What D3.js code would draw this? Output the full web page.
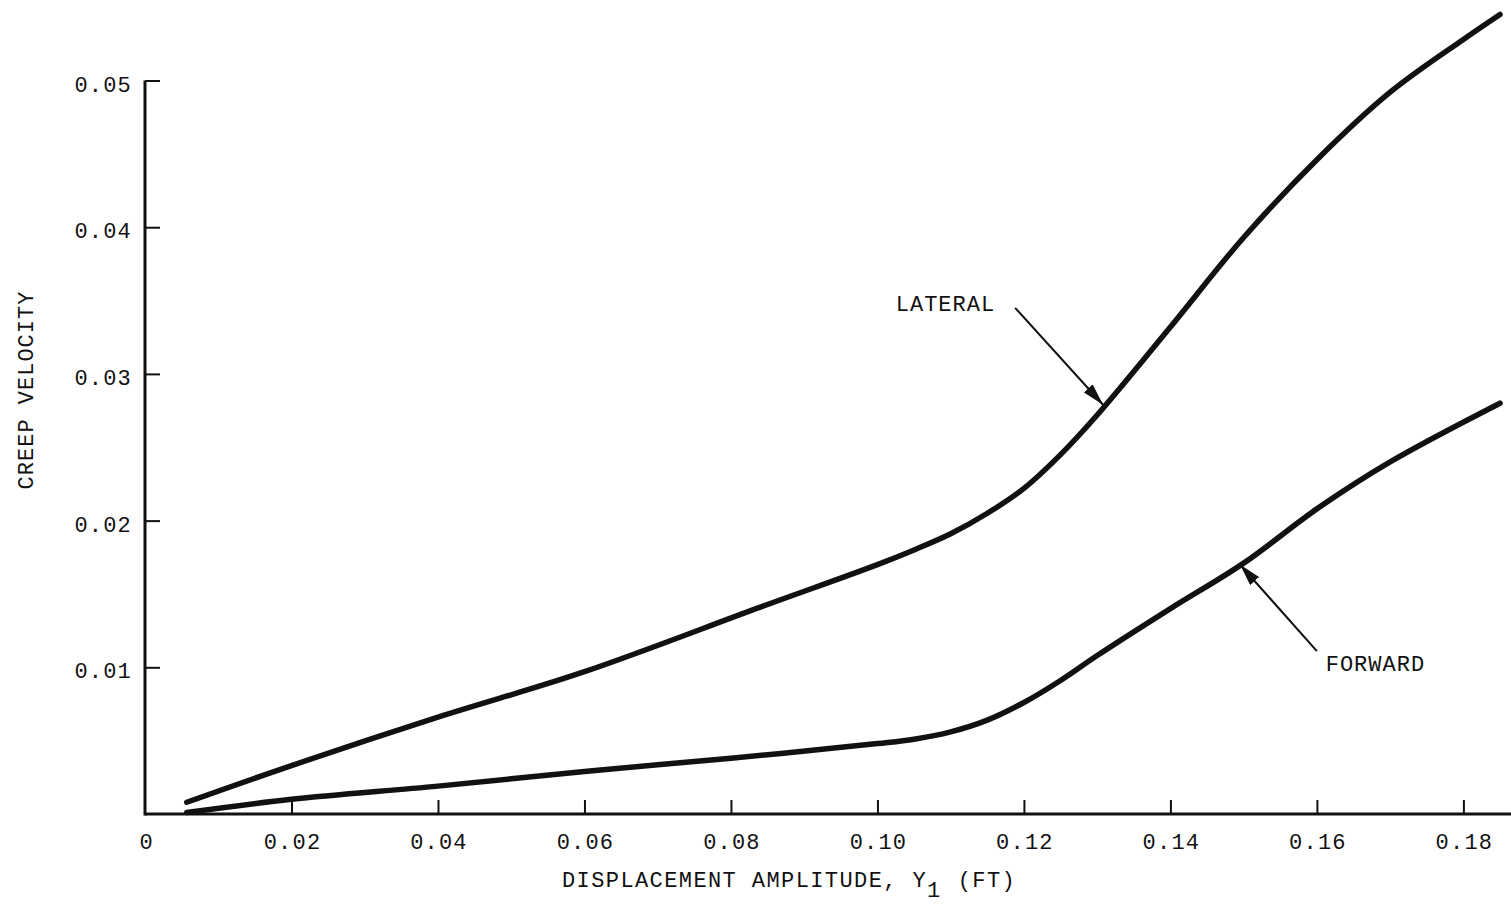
<!DOCTYPE html>
<html>
<head>
<meta charset="utf-8">
<script src="https://cdn.jsdelivr.net/npm/d3@7"></script>
<style>
  html, body { margin: 0; padding: 0; background: #fff; }
  svg { display: block; }
  text { font-family: "Liberation Mono", "Courier New", monospace; fill: #111; }
</style>
</head>
<body>
<svg id="chart" width="1511" height="905"></svg>
<script>
// ---- Data ----
const xTicks = [0.02, 0.04, 0.06, 0.08, 0.10, 0.12, 0.14, 0.16, 0.18];
const xTickLabels = ["0.02", "0.04", "0.06", "0.08", "0.10", "0.12", "0.14", "0.16", "0.18"];
const yTicks = [0.01, 0.02, 0.03, 0.04, 0.05];
const yTickLabels = ["0.01", "0.02", "0.03", "0.04", "0.05"];

const lateralX = [0.0057, 0.02, 0.04, 0.06, 0.084, 0.10, 0.105, 0.11, 0.115, 0.12, 0.125, 0.13, 0.14, 0.15, 0.16, 0.17, 0.18, 0.185];
const lateralY = [0.0008, 0.0033, 0.0066, 0.0097, 0.0141, 0.0170, 0.0180, 0.0191, 0.0205, 0.0222, 0.0245, 0.0272, 0.0332, 0.0393, 0.0446, 0.0492, 0.0528, 0.0545];

const forwardX = [0.0057, 0.02, 0.04, 0.06, 0.08, 0.10, 0.105, 0.11, 0.115, 0.12, 0.125, 0.13, 0.14, 0.15, 0.16, 0.17, 0.185];
const forwardY = [0.0001, 0.0010, 0.0019, 0.0029, 0.0038, 0.0048, 0.0051, 0.0056, 0.0064, 0.0076, 0.0091, 0.0108, 0.0140, 0.0171, 0.0208, 0.0240, 0.0280];

const annoLabels = ["LATERAL", "FORWARD"];
const annoTextX = [0.1025, 0.1612];
const annoTextY = [0.0343, 0.00975];
const arrowFromX = [0.1188, 0.1600];
const arrowFromY = [0.0345, 0.0111];
const arrowToX = [0.1308, 0.1495];
const arrowToY = [0.0279, 0.0170];

// ---- Chart ----
const svg = d3.select("#chart");
const x = d3.scaleLinear().domain([0, 0.1865]).range([145, 1511]);
const y = d3.scaleLinear().domain([0, 0.05]).range([814, 80.5]);

const defs = svg.append("defs");
defs.append("marker")
  .attr("id", "arrow").attr("viewBox", "0 0 22 12")
  .attr("refX", 22).attr("refY", 6)
  .attr("markerWidth", 22).attr("markerHeight", 12)
  .attr("markerUnits", "userSpaceOnUse")
  .attr("orient", "auto")
  .append("path").attr("d", "M0,0 L22,6 L0,12 Z").attr("fill", "#111");

// axes
const xAxis = d3.axisBottom(x).tickValues(xTicks).tickSize(-14).tickFormat("");
const gx = svg.append("g").attr("transform", `translate(0,${y(0)})`).call(xAxis);
gx.select(".domain").attr("stroke", "#111").attr("stroke-width", 3).attr("d", `M${x(0)},0H1511`);
gx.selectAll(".tick line").attr("stroke", "#111").attr("stroke-width", 2);

const yAxis = d3.axisLeft(y).tickValues(yTicks).tickSize(-15).tickFormat("");
const gy = svg.append("g").attr("transform", `translate(${x(0)},0)`).call(yAxis);
gy.select(".domain").attr("stroke", "#111").attr("stroke-width", 3).attr("d", `M0,${y(0) + 1.5}V${y(0.05)}`);
gy.selectAll(".tick line").attr("stroke", "#111").attr("stroke-width", 2);

// tick labels
const FS = 22, LS = 1.2;
svg.append("g").selectAll("text").data(xTicks).join("text")
  .attr("x", d => x(d) + 1).attr("y", 849)
  .attr("text-anchor", "middle").attr("font-size", FS).attr("letter-spacing", LS)
  .text((d, i) => xTickLabels[i]);
svg.append("text").attr("x", x(0) + 1).attr("y", 849).attr("text-anchor", "middle")
  .attr("font-size", FS).text("0");

svg.append("g").selectAll("text").data(yTicks).join("text")
  .attr("x", 132).attr("y", d => y(d) + 11)
  .attr("text-anchor", "end").attr("font-size", FS).attr("letter-spacing", LS)
  .text((d, i) => yTickLabels[i]);

// axis titles
const xt = svg.append("text").attr("x", 562).attr("y", 887)
  .attr("font-size", FS).attr("letter-spacing", 1.4);
xt.append("tspan").text("DISPLACEMENT AMPLITUDE, Y");
xt.append("tspan").attr("dy", 10).text("1");
xt.append("tspan").attr("dy", -10).attr("dx", 16).text("(FT)");

svg.append("text").attr("transform", "translate(33,390) rotate(-90)")
  .attr("text-anchor", "middle").attr("font-size", FS).attr("letter-spacing", 1.0)
  .text("CREEP VELOCITY");

// curves
const line = d3.line().x(d => x(d[0])).y(d => y(d[1])).curve(d3.curveCatmullRom.alpha(0.5));
const series = [d3.zip(lateralX, lateralY), d3.zip(forwardX, forwardY)];
svg.append("g").selectAll("path").data(series).join("path")
  .attr("d", line).attr("fill", "none").attr("stroke", "#111")
  .attr("stroke-width", 5.5).attr("stroke-linecap", "round");

// annotations
svg.append("g").selectAll("text").data(annoLabels).join("text")
  .attr("x", (d, i) => x(annoTextX[i])).attr("y", (d, i) => y(annoTextY[i]))
  .attr("font-size", FS).attr("letter-spacing", 1.0).text(d => d);

svg.append("g").selectAll("line").data(annoLabels).join("line")
  .attr("x1", (d, i) => x(arrowFromX[i])).attr("y1", (d, i) => y(arrowFromY[i]))
  .attr("x2", (d, i) => x(arrowToX[i])).attr("y2", (d, i) => y(arrowToY[i]))
  .attr("stroke", "#111").attr("stroke-width", 2)
  .attr("marker-end", "url(#arrow)");
</script>
</body>
</html>
